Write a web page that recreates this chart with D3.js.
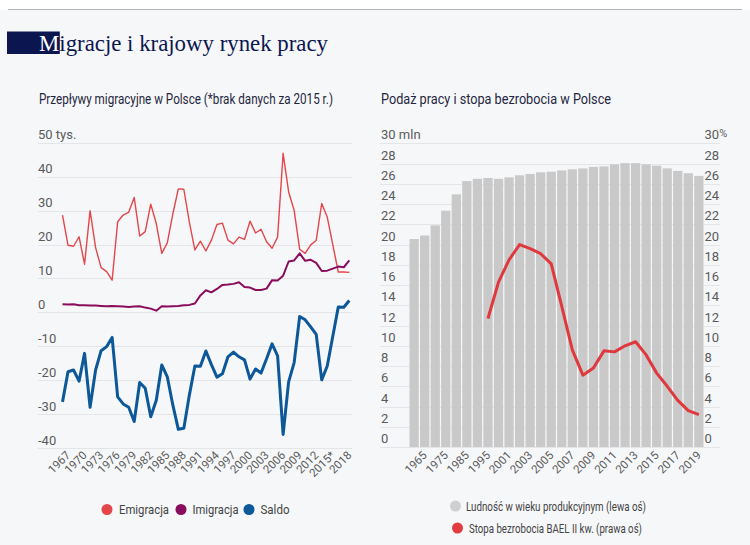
<!DOCTYPE html>
<html><head><meta charset="utf-8">
<script src="https://cdn.jsdelivr.net/npm/d3@7"></script>
<style>body{margin:0;background:#fff}</style>
</head><body>
<svg id="c" width="750" height="545"></svg>
<script>
// ---------- DATA ----------
const migYears = d3.range(1966, 2019);
const emigration = [28.7,19.8,19.5,22.3,14.2,30.0,19.1,13.2,12.0,9.5,
  26.7,28.7,29.5,33.9,22.5,23.8,31.9,26.2,17.4,20.5,
  29.0,36.4,36.3,26.6,18.4,21.0,18.1,21.3,25.9,26.3,
  21.3,20.2,22.2,21.5,26.9,23.4,24.5,20.8,18.9,22.2,
  46.9,35.5,30.1,18.6,17.4,19.9,21.2,32.1,28.1,null,
  11.9,11.9,11.8];
const immigration = [2.4,2.3,2.4,2.1,2.1,2.0,2.0,1.9,1.8,1.9,
  1.8,1.7,1.6,1.7,1.8,1.4,1.1,0.5,1.8,1.7,
  1.8,1.9,2.1,2.2,2.6,5.0,6.5,5.9,6.9,8.1,
  8.2,8.4,8.9,7.5,7.3,6.6,6.6,7.0,9.5,9.4,
  10.8,15.0,15.3,17.4,15.2,15.5,14.6,12.2,12.3,null,
  13.5,13.3,15.3];
const saldo = [-26.4,-17.5,-17.0,-20.3,-12.1,-28.0,-17.0,-11.3,-10.1,-7.4,
  -24.9,-27.0,-28.0,-32.2,-20.7,-22.4,-30.8,-25.9,-15.5,-19.0,
  -27.3,-34.5,-34.2,-24.4,-15.8,-15.9,-11.4,-15.4,-19.1,-18.1,
  -13.1,-11.7,-13.1,-14.0,-19.7,-16.7,-17.9,-13.7,-9.3,-12.8,
  -36.0,-20.5,-14.8,-1.2,-2.2,-4.3,-6.5,-19.9,-15.8,null,
  1.6,1.5,3.5];
const migTickYears = [1967,1970,1973,1976,1979,1982,1985,1988,1991,1994,1997,2000,2003,2006,2009,2012,2015,2018];
const migTickLabels = ["1967","1970","1973","1976","1979","1982","1985","1988","1991","1994","1997","2000","2003","2006","2009","2012","2015*","2018"];
const migYTicks = [50,40,30,20,10,0,-10,-20,-30,-40];
const migSeriesNames = ["Emigracja","Imigracja","Saldo"];

const laborCats = ["1960","1965","1970","1975","1980","1985","1990","1995",
  "2000","2001","2002","2003","2004","2005","2006","2007","2008","2009",
  "2010","2011","2012","2013","2014","2015","2016","2017","2018","2019"];
const workingAge = [20.55,20.9,21.9,23.35,24.97,26.28,26.5,26.58,
  26.5,26.65,26.85,26.98,27.14,27.2,27.33,27.44,27.53,27.68,
  27.73,27.93,28.05,28.05,27.93,27.8,27.53,27.28,27.05,26.79];
const unemployment = [null,null,null,null,null,null,null,12.7,
  16.3,18.5,20.0,19.6,19.1,18.1,13.9,9.6,7.1,7.8,
  9.5,9.4,10.0,10.4,9.1,7.3,6.0,4.6,3.6,3.2];
const laborTickLabels = ["1965","1975","1985","1995","2001","2003","2005","2007","2009","2011","2013","2015","2017","2019"];
const laborYTicks = [0,2,4,6,8,10,12,14,16,18,20,22,24,26,28,30];
const laborSeriesNames = ["Ludność w wieku produkcyjnym (lewa oś)","Stopa bezrobocia BAEL II kw. (prawa oś)"];

// ---------- STYLE ----------
const C = {emig:"#e4464b", immig:"#8a0d5d", saldo:"#0c5898", bar:"#c9c9c9", unemp:"#df383d",
  grid:"#e3e5e9", tick:"#5a5a5a", navy:"#0b1650", sub:"#1e2640"};
const FONT = "Roboto, 'Liberation Sans', sans-serif";

const svg = d3.select("#c").style("font-family", FONT);
svg.append("rect").attr("width",750).attr("height",545).attr("fill","#ffffff");
svg.append("rect").attr("x",0).attr("y",10).attr("width",750).attr("height",535).attr("fill","#f6f7f9");
svg.append("line").attr("x1",8).attr("x2",742).attr("y1",9.5).attr("y2",9.5).attr("stroke","#b4b4b4").attr("stroke-width",1);

function fit(sel, w){
  const L = sel.node().getComputedTextLength();
  if (Math.abs(L - w) > 1) sel.attr("textLength", w).attr("lengthAdjust","spacingAndGlyphs");
  return sel;
}

// ---------- TITLE ----------
const titleRect = svg.append("rect").attr("x",7).attr("y",31.5).attr("height",22.5).attr("fill",C.navy);
const title = svg.append("text").attr("x",39).attr("y",50.5)
  .style("font-family","'Liberation Serif', 'DejaVu Serif', serif").style("font-size","24px");
title.append("tspan").attr("fill","#ffffff").text("M");
title.append("tspan").attr("fill",C.navy).text("igracje i krajowy rynek pracy");
fit(title, 289);
{
  const mEnd = title.node().getStartPositionOfChar(1).x;
  titleRect.attr("width", mEnd - 7 + 0.5);
}

// ---------- SUBTITLES ----------
fit(svg.append("text").attr("x",39).attr("y",104).attr("fill",C.sub).style("font-size","14px")
  .text("Przepływy migracyjne w Polsce (*brak danych za 2015 r.)"), 294);
fit(svg.append("text").attr("x",381).attr("y",104).attr("fill",C.sub).style("font-size","14px")
  .text("Podaż pracy i stopa bezrobocia w Polsce"), 230);

// ---------- LEFT CHART ----------
const xL = d3.scalePoint().domain(migYears).range([62.5, 349.3]);
const yL = d3.scaleLinear().domain([-40, 50]).range([448, 142.8]);

const gL = svg.append("g");
gL.selectAll("line.grid").data(migYTicks).join("line")
  .attr("x1",38).attr("x2",352).attr("y1",d=>Math.round(yL(d))+0.5).attr("y2",d=>Math.round(yL(d))+0.5)
  .attr("stroke",C.grid).attr("stroke-width",1);
gL.selectAll("text.ytick").data(migYTicks).join("text")
  .attr("x",38).attr("y",d=>yL(d)-3.5).attr("fill",C.tick).style("font-size","13px")
  .text(d => d === 50 ? "50 tys." : d);

gL.selectAll("text.xtick").data(migTickYears).join("text")
  .attr("transform",d=>`translate(${xL(d)+3},${456}) rotate(-45)`)
  .attr("text-anchor","end").attr("fill",C.tick).style("font-size","11.5px")
  .text((d,i)=>migTickLabels[i]);

function migLine(vals, color, w){
  const pts = migYears.map((y,i)=>[y, vals[i]]).filter(p=>p[1]!=null);
  gL.append("path").datum(pts)
    .attr("d", d3.line().x(p=>xL(p[0])).y(p=>yL(p[1])))
    .attr("fill","none").attr("stroke",color).attr("stroke-width",w).attr("stroke-linejoin","round");
}
migLine(emigration, C.emig, 1.4);
migLine(immigration, C.immig, 2);
migLine(saldo, C.saldo, 3);

// legend left
const legL = [{n:migSeriesNames[0],c:C.emig,cx:107,tx:119,w:50},
              {n:migSeriesNames[1],c:C.immig,cx:181,tx:192.5,w:46},
              {n:migSeriesNames[2],c:C.saldo,cx:249,tx:260.5,w:29}];
legL.forEach(l=>{
  svg.append("circle").attr("cx",l.cx).attr("cy",509.5).attr("r",5.5).attr("fill",l.c);
  fit(svg.append("text").attr("x",l.tx).attr("y",514).attr("fill","#444").style("font-size","13px").text(l.n), l.w);
});

// ---------- RIGHT CHART ----------
const xR = d3.scaleBand().domain(laborCats).range([409.5, 703.5]).paddingInner(0.12).paddingOuter(0);
const yR = d3.scaleLinear().domain([0, 30]).range([447, 143.4]);

const gR = svg.append("g");
gR.selectAll("line.grid").data(laborYTicks).join("line")
  .attr("x1",380).attr("x2",720).attr("y1",d=>Math.round(yR(d))+0.5).attr("y2",d=>Math.round(yR(d))+0.5)
  .attr("stroke",C.grid).attr("stroke-width",1);
gR.selectAll("text.yl").data(laborYTicks).join("text")
  .attr("x",381).attr("y",d=>yR(d)-4).attr("fill",C.tick).style("font-size","13px")
  .text(d => d === 30 ? "30 mln" : d);
const yrt = gR.selectAll("text.yr").data(laborYTicks).join("text")
  .attr("x",704.5).attr("y",d=>yR(d)-4).attr("fill",C.tick).style("font-size","13px");
yrt.append("tspan").text(d=>d);
yrt.filter(d=>d===30).append("tspan").attr("dy",-2).style("font-size","11px").text("%");

gR.selectAll("rect.bar").data(laborCats).join("rect")
  .attr("x",d=>xR(d)).attr("width",xR.bandwidth())
  .attr("y",(d,i)=>yR(workingAge[i])).attr("height",(d,i)=>yR(0)-yR(workingAge[i]))
  .attr("fill",C.bar);

const upts = laborCats.map((c,i)=>[c, unemployment[i]]).filter(p=>p[1]!=null);
gR.append("path").datum(upts)
  .attr("d", d3.line().x(p=>xR(p[0])+xR.bandwidth()/2).y(p=>yR(p[1])))
  .attr("fill","none").attr("stroke",C.unemp).attr("stroke-width",3).attr("stroke-linejoin","round");

gR.selectAll("text.xt").data(laborTickLabels).join("text")
  .attr("transform",d=>`translate(${xR(d)+xR.bandwidth()/2+3},${456}) rotate(-45)`)
  .attr("text-anchor","end").attr("fill",C.tick).style("font-size","11.5px")
  .text(d=>d);

// legend right
svg.append("circle").attr("cx",455.5).attr("cy",506).attr("r",5.5).attr("fill","#cfcfcf");
fit(svg.append("text").attr("x",466).attr("y",510.5).attr("fill","#444").style("font-size","13px").text(laborSeriesNames[0]), 180);
svg.append("circle").attr("cx",457.5).attr("cy",528).attr("r",5.5).attr("fill","#e23c42");
fit(svg.append("text").attr("x",469).attr("y",532.5).attr("fill","#444").style("font-size","13px").text(laborSeriesNames[1]), 173);
</script>
</body></html>
